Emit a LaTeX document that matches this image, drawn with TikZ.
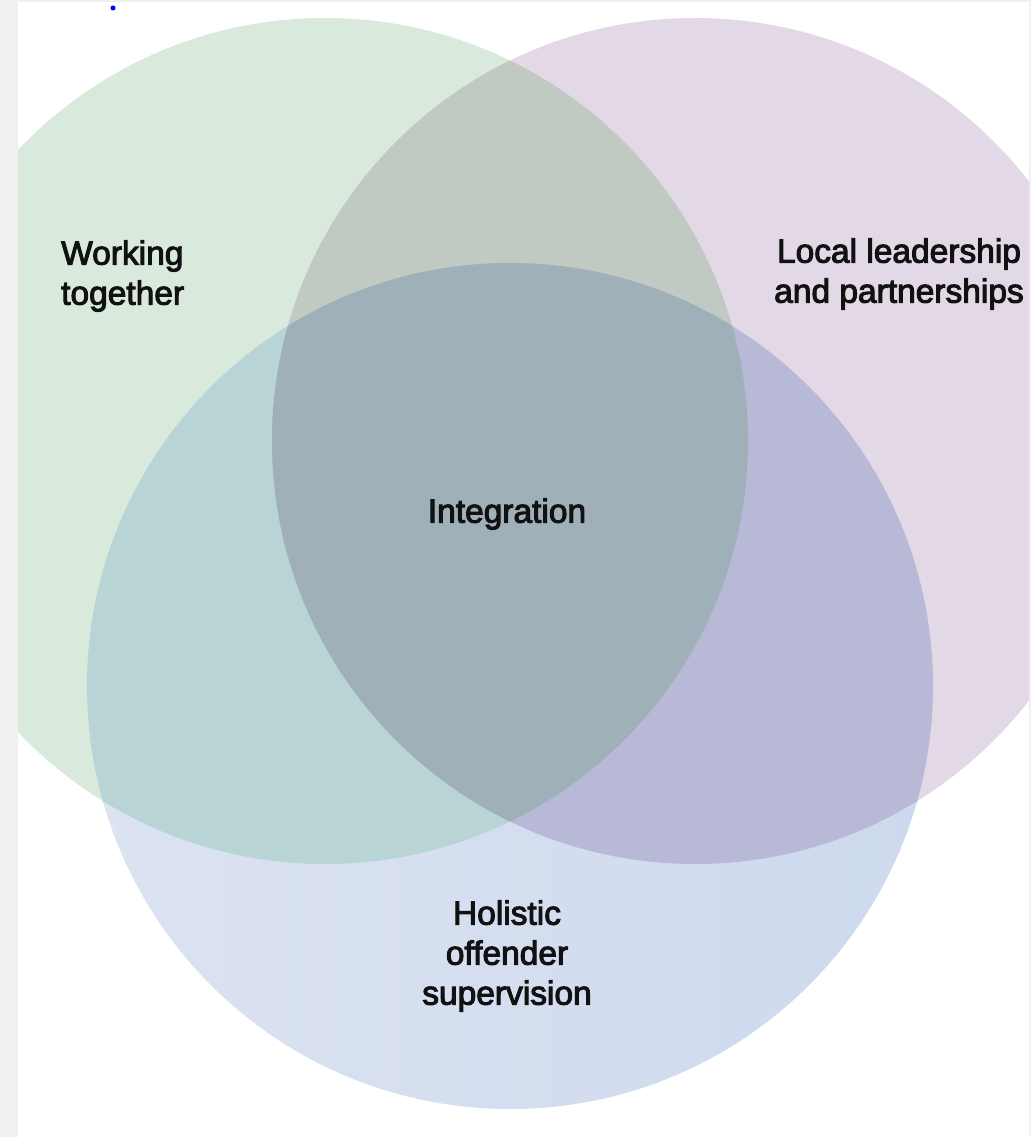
\documentclass[tikz,border=0pt]{standalone}
\usepackage{fontspec}
\setmainfont{Liberation Sans}[FakeBold=3]
\definecolor{pagegray}{HTML}{F0F0F0}
\definecolor{cgreen}{HTML}{D9EADD}
\definecolor{cpurple}{HTML}{E3D9E6}
\definecolor{cblueL}{HTML}{DCE3F1}
\definecolor{cblueR}{HTML}{CDD9EE}
\definecolor{cgp}{HTML}{C1C9C3}
\definecolor{cgb}{HTML}{B8D4D4}
\definecolor{cpb}{HTML}{B8B9D6}
\definecolor{call}{HTML}{A0B0B8}
\definecolor{txt}{HTML}{111111}
\begin{document}
\begin{tikzpicture}[x=1pt,y=-1pt,
  lbl/.style={font=\fontsize{33.5}{40}\selectfont, text=txt, align=center, inner sep=0pt},
  circG/.style={radius=423pt}]
\useasboundingbox (0,0) rectangle (1031,1137);
\fill[pagegray] (0,0) rectangle (1031,1137);
\fill[white] (18,2) rectangle (1029,1137);
\begin{scope}
  \clip (18,2) rectangle (1029,1137);
  \fill[cgreen] (325,441) circle[circG];
  \fill[cpurple] (695,441) circle[circG];
  \shade[left color=cblueL, right color=cblueR] (510,686) circle[circG];
  \begin{scope}
    \clip (325,441) circle[circG];
    \fill[cgp] (695,441) circle[circG];
    \fill[cgb] (510,686) circle[circG];
  \end{scope}
  \begin{scope}
    \clip (695,441) circle[circG];
    \fill[cpb] (510,686) circle[circG];
    \clip (325,441) circle[circG];
    \fill[call] (510,686) circle[circG];
  \end{scope}
\end{scope}
\node[circle, fill=blue, inner sep=0pt, minimum size=5pt] (dot) at (113,8) {};
\node[lbl, anchor=west, align=left] (wt) at (61,276) {Working\\together};
\node[lbl] (ll) at (899,274) {Local leadership\\and partnerships};
\node[lbl] (int) at (507,514) {Integration};
\node[lbl] (hos) at (507,956) {Holistic\\offender\\supervision};
\end{tikzpicture}
\end{document}
